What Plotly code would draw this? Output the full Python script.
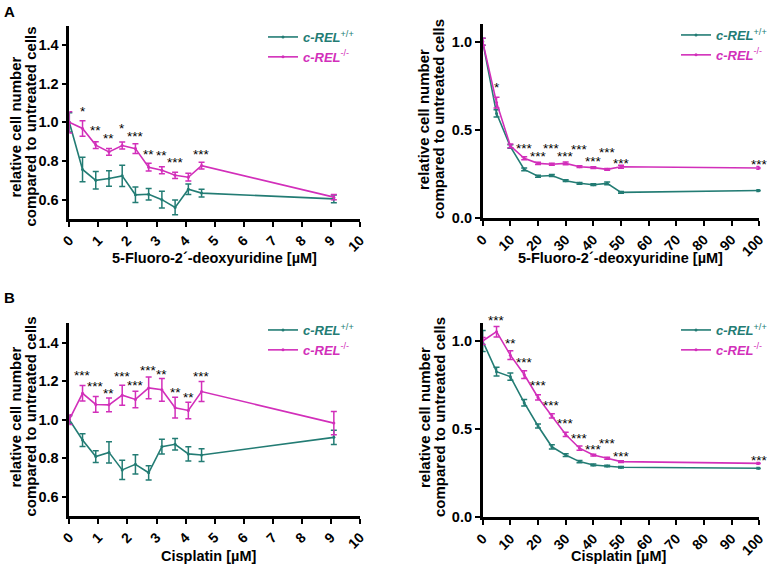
import plotly.graph_objects as go

# ---------------- data ----------------
x_low = [0, 0.455, 0.91, 1.365, 1.82, 2.275, 2.73, 3.185, 3.64, 4.095, 4.55, 9.1]
x_high = [0, 5, 10, 15, 20, 25, 30, 35, 40, 45, 50, 100]

# A, left: 5-FdU low doses
fdu_low_wt = [1.0, 0.756, 0.700, 0.709, 0.723, 0.625, 0.628, 0.600, 0.560, 0.654, 0.634, 0.604]
fdu_low_wt_err = [0.05, 0.063, 0.045, 0.04, 0.055, 0.04, 0.03, 0.043, 0.038, 0.027, 0.02, 0.02]
fdu_low_ko = [1.0, 0.968, 0.882, 0.847, 0.880, 0.864, 0.768, 0.752, 0.726, 0.716, 0.776, 0.613]
fdu_low_ko_err = [0.055, 0.04, 0.018, 0.018, 0.018, 0.025, 0.02, 0.018, 0.016, 0.02, 0.018, 0.014]
fdu_low_stars = ["", "*", "**", "**", "*", "***", "**", "**", "***", "", "***", ""]

# A, right: 5-FdU high doses
fdu_high_wt = [1.0, 0.594, 0.406, 0.277, 0.238, 0.242, 0.213, 0.198, 0.190, 0.198, 0.147, 0.157]
fdu_high_wt_err = [0.02, 0.02, 0.01, 0.008, 0.006, 0.006, 0.005, 0.005, 0.005, 0.008, 0.005, 0.005]
fdu_high_ko = [1.0, 0.655, 0.41, 0.34, 0.311, 0.306, 0.311, 0.292, 0.287, 0.277, 0.292, 0.285]
fdu_high_ko_err = [0.02, 0.03, 0.01, 0.008, 0.006, 0.005, 0.008, 0.005, 0.005, 0.005, 0.008, 0.008]
fdu_high_stars = ["", "*", "", "***", "***", "***", "***", "***", "***", "***", "***", "***"]

# B, left: cisplatin low doses
cis_low_wt = [1.0, 0.894, 0.808, 0.830, 0.739, 0.768, 0.724, 0.860, 0.872, 0.822, 0.816, 0.908]
cis_low_wt_err = [0.02, 0.033, 0.03, 0.055, 0.05, 0.05, 0.037, 0.038, 0.03, 0.037, 0.033, 0.037]
cis_low_ko = [1.0, 1.137, 1.079, 1.077, 1.127, 1.105, 1.165, 1.155, 1.062, 1.048, 1.146, 0.982]
cis_low_ko_err = [0.025, 0.04, 0.041, 0.036, 0.052, 0.043, 0.056, 0.059, 0.054, 0.043, 0.052, 0.06]
cis_low_stars = ["", "***", "***", "**", "***", "***", "***", "**", "**", "**", "***", ""]

# B, right: cisplatin high doses
cis_high_wt = [1.0, 0.826, 0.798, 0.650, 0.518, 0.400, 0.353, 0.316, 0.297, 0.291, 0.284, 0.278]
cis_high_wt_err = [0.06, 0.025, 0.02, 0.018, 0.012, 0.012, 0.008, 0.006, 0.005, 0.004, 0.004, 0.004]
cis_high_ko = [1.0, 1.053, 0.920, 0.810, 0.680, 0.575, 0.470, 0.392, 0.353, 0.335, 0.316, 0.306]
cis_high_ko_err = [0.02, 0.03, 0.025, 0.022, 0.015, 0.012, 0.012, 0.012, 0.005, 0.005, 0.005, 0.005]
cis_high_stars = ["", "***", "**", "***", "***", "***", "***", "***", "***", "***", "***", "***"]

x_ticks_low = list(range(0, 11))
x_ticks_high = list(range(0, 101, 10))
y_ticks_low = [0.6, 0.8, 1.0, 1.2, 1.4]
y_ticks_high = [0.0, 0.5, 1.0]

label_wt = "c-REL"
sup_wt = "+/+"
sup_ko = "-/-"
y_title_lines = ["relative cell number", "compared to untreated cells"]
x_title_fdu = "5-Fluoro-2´-deoxyuridine [µM]"
x_title_cis = "Cisplatin [µM]"

# ---------------- style ----------------
TEAL = "#237c74"
MAG = "#d22fba"
FONT = "Liberation Sans, Arial, sans-serif"
W, H = 777, 566

# small vertical nudges (px) of the significance marks, as in the original figure
star_nudge_A_left = [0, 0, 2, 0, 4, -2, -1, 2, 0, 0, -2, 0]
star_nudge_A_right = [0, 0, 0, -1, -4, 5, -4, 7, -4, 6, -8, -7]
star_nudge_B_left = [0, 1, 1, -5, -1, -4, -3, -6, -5, -5, -4, 0]
star_nudge_B_right = [0, -4, -2, -1, 0, -1, -1, -2, -5, 4, -5, -8]

fig = go.Figure()

panels = [
    ("", x_low, fdu_low_wt, fdu_low_wt_err, fdu_low_ko, fdu_low_ko_err, fdu_low_stars, "legend", star_nudge_A_left),
    ("2", x_high, fdu_high_wt, fdu_high_wt_err, fdu_high_ko, fdu_high_ko_err, fdu_high_stars, "legend2", star_nudge_A_right),
    ("3", x_low, cis_low_wt, cis_low_wt_err, cis_low_ko, cis_low_ko_err, cis_low_stars, "legend3", star_nudge_B_left),
    ("4", x_high, cis_high_wt, cis_high_wt_err, cis_high_ko, cis_high_ko_err, cis_high_stars, "legend4", star_nudge_B_right),
]

for pid, xs, wt, wte, ko, koe, stars, leg, nudge in panels:
    xa = "x" + pid
    ya = "y" + pid
    for vals, errs, col, sup in [(wt, wte, TEAL, sup_wt), (ko, koe, MAG, sup_ko)]:
        fig.add_trace(go.Scatter(
            x=xs, y=vals, xaxis=xa, yaxis=ya,
            mode="lines+markers",
            line=dict(color=col, width=1.6),
            marker=dict(color=col, size=3),
            error_y=dict(type="data", array=errs, visible=True, color=col, thickness=1.5, width=3),
            name=f"<span style='color:{col}'><b><i>{label_wt}</i></b><sup>{sup}</sup></span>",
            legend=leg, cliponaxis=False,
        ))
    for xv, yv, ev, s, dy in zip(xs, ko, koe, stars, nudge):
        if not s:
            continue
        fig.add_annotation(
            x=xv, y=yv + ev, xref=xa, yref=ya, text=s, showarrow=False,
            yanchor="bottom", xanchor="center", yshift=dy,
            font=dict(family=FONT, size=13.5, color="black"),
        )

dom_x_left = [69.3 / W, 360 / W]
dom_x_right = [482.7 / W, 759.3 / W]
dom_y_A_left = [1 - 219 / H, 1 - 25.6 / H]
dom_y_A_right = [1 - 218.3 / H, 1 - 24 / H]
dom_y_B_left = [1 - 515.9 / H, 1 - 323.4 / H]
dom_y_B_right = [1 - 517.3 / H, 1 - 323.4 / H]

xtickfont = dict(family=FONT, size=14, color="black", weight="bold")
ytickfont = dict(family=FONT, size=14.5, color="black", weight="bold")

def xaxis(dom, rng, ticks, anchor):
    return dict(domain=dom, range=rng, tickvals=ticks, ticktext=[str(t) for t in ticks],
                tickangle=-45, showline=True, linecolor="black", linewidth=2.6,
                ticks="outside", ticklen=5, tickwidth=2, tickcolor="black",
                showgrid=False, zeroline=False, anchor=anchor, tickfont=xtickfont,
                automargin=False, fixedrange=True)

def yaxis(dom, rng, ticks, anchor):
    return dict(domain=dom, range=rng, tickvals=ticks, ticktext=[f"{t:.1f}" for t in ticks],
                showline=True, linecolor="black", linewidth=2.6,
                ticks="outside", ticklen=5, tickwidth=2, tickcolor="black",
                showgrid=False, zeroline=False, anchor=anchor, tickfont=ytickfont,
                automargin=False, fixedrange=True)

legend_common = dict(font=dict(family=FONT, size=13), bgcolor="rgba(0,0,0,0)",
                     xanchor="left", yanchor="top", tracegroupgap=0, itemwidth=30)

fig.update_layout(
    width=W, height=H, margin=dict(l=0, r=0, t=0, b=0, autoexpand=False),
    paper_bgcolor="white", plot_bgcolor="white", showlegend=True,
    xaxis=xaxis(dom_x_left, [0, 10], x_ticks_low, "y"),
    yaxis=yaxis(dom_y_A_left, [0.5, 1.5], y_ticks_low, "x"),
    xaxis2=xaxis(dom_x_right, [0, 100], x_ticks_high, "y2"),
    yaxis2=yaxis(dom_y_A_right, [0, 1.1], y_ticks_high, "x2"),
    xaxis3=xaxis(dom_x_left, [0, 10], x_ticks_low, "y3"),
    yaxis3=yaxis(dom_y_B_left, [0.5, 1.5], y_ticks_low, "x3"),
    xaxis4=xaxis(dom_x_right, [0, 100], x_ticks_high, "y4"),
    yaxis4=yaxis(dom_y_B_right, [0, 1.1], y_ticks_high, "x4"),
    legend=dict(x=263 / W, y=1 - 22 / H, **legend_common),
    legend2=dict(x=676 / W, y=1 - 20 / H, **legend_common),
    legend3=dict(x=263 / W, y=1 - 315 / H, **legend_common),
    legend4=dict(x=676 / W, y=1 - 315 / H, **legend_common),
)

# axis titles (placed as in the original)
title_font = dict(family=FONT, size=14.5, color="black", weight="bold")
for cx, cy, txt in [(214, 258, x_title_fdu), (620, 258, x_title_fdu),
                    (209, 556, x_title_cis), (619, 556, x_title_cis)]:
    fig.add_annotation(x=cx / W, y=1 - cy / H, xref="paper", yref="paper", text=txt,
                       showarrow=False, xanchor="center", yanchor="middle", font=title_font)

ytitle_font = dict(family=FONT, size=15, color="black", weight="bold")
for cx, cy in [(14.5, 127), (424, 119), (14.5, 417), (424, 417)]:
    for i, line in enumerate(y_title_lines):
        fig.add_annotation(x=(cx + 15 * i) / W, y=1 - cy / H, xref="paper", yref="paper",
                           text=line, textangle=-90, showarrow=False,
                           xanchor="center", yanchor="middle", font=ytitle_font)

fig.add_annotation(x=2 / W, y=1 - 1 / H, xref="paper", yref="paper", text="<b>A</b>",
                   showarrow=False, xanchor="left", yanchor="top",
                   font=dict(family=FONT, size=15, color="black"))
fig.add_annotation(x=2 / W, y=1 - 287 / H, xref="paper", yref="paper", text="<b>B</b>",
                   showarrow=False, xanchor="left", yanchor="top",
                   font=dict(family=FONT, size=15, color="black"))

fig.write_html("out.html", config={"displayModeBar": False},
               post_script="document.body.style.margin='0';document.body.style.overflow='hidden';")
